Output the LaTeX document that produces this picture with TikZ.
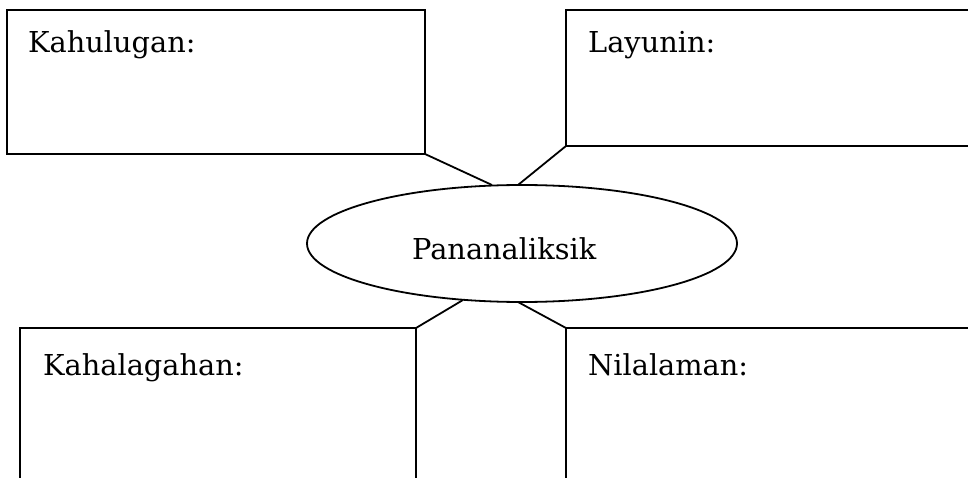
\documentclass[tikz,border=0pt]{standalone}
\usepackage{fontspec}
\setmainfont{DejaVu Serif}
\usetikzlibrary{shapes.geometric}
\tikzset{
    BoxStyle/.style={draw,line width=1.8pt,rectangle,anchor=north west,inner sep=0pt,outer sep=0pt},
    OvalStyle/.style={draw,line width=1.8pt,ellipse,minimum width=430pt,minimum height=117pt,inner sep=0pt,outer sep=0pt},
    LabelStyle/.style={anchor=base west,inner sep=0pt,font=\fontsize{28.8}{32}\selectfont},
    LinkStyle/.style={line width=1.8pt}
}
\begin{document}
\begin{tikzpicture}[x=1pt,y=-1pt]
            \useasboundingbox (0,0) rectangle (968,478);
            \clip (0,0) rectangle (968,478);

            % four boxes
            \node[BoxStyle,minimum width=418pt,minimum height=144pt] (kahulugan) at (7,10) {};
            \node[BoxStyle,minimum width=420pt,minimum height=136pt] (layunin) at (566,10) {};
            \node[BoxStyle,minimum width=396pt,minimum height=200pt] (kahalagahan) at (20,328) {};
            \node[BoxStyle,minimum width=420pt,minimum height=200pt] (nilalaman) at (566,328) {};

            % the oval in the middle
            \node[OvalStyle] (pan) at (522,243.5) {};

            \node[LabelStyle] (kahulugantxt) at (28,53) {Kahulugan:};
            \node[LabelStyle] (layunintxt) at (588,53) {Layunin:};
            \node[LabelStyle] (pantxt) at (412,259) {Pananaliksik};
            \node[LabelStyle] (kahalagahantxt) at (43,375) {Kahalagahan:};
            \node[LabelStyle] (nilalamantxt) at (588,375) {Nilalaman:};

            \draw[LinkStyle] (kahulugan.south east) -- ([xshift=-30pt]pan.north);
            \draw[LinkStyle] (layunin.south west) -- ([xshift=-4pt]pan.north);
            \draw[LinkStyle] (kahalagahan.north east) -- ([xshift=-59pt,yshift=2pt]pan.south);
            \draw[LinkStyle] (nilalaman.north west) -- ([xshift=-4pt]pan.south);
        \end{tikzpicture}
\end{document}
